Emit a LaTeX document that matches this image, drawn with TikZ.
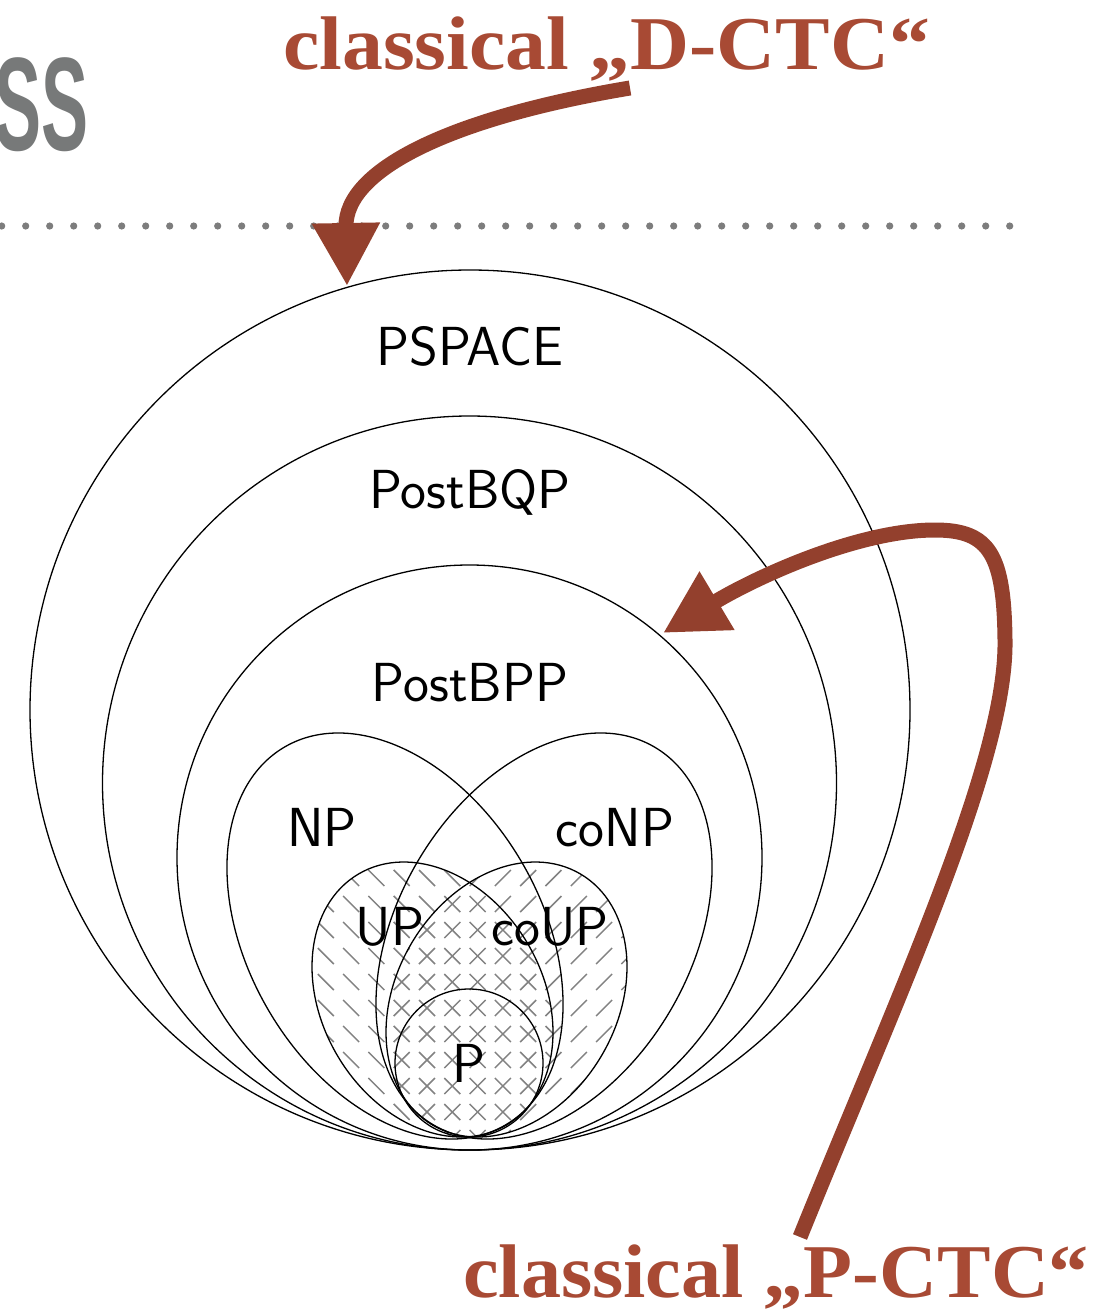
\documentclass[tikz,border=0pt]{standalone}
\usepackage{fontspec}
\usepackage{graphicx}
\usetikzlibrary{arrows.meta}
\newfontfamily\redfont{Liberation Serif}
\newfontfamily\titlefont{Liberation Sans}
\definecolor{arrowred}{RGB}{147,64,45}
\definecolor{textred}{RGB}{168,74,52}
\definecolor{hatchgray}{RGB}{130,130,130}
\definecolor{titlegray}{RGB}{119,121,121}
\definecolor{dotgray}{RGB}{125,125,125}
\begin{document}
\begin{tikzpicture}[x=1pt,y=-1pt,
  setline/.style={line width=1.3pt, black},
  lbl/.style={font=\sffamily\fontsize{55}{60}\selectfont, inner sep=0pt, anchor=base},
  ctc/.style={-{Triangle[length=63pt,width=64pt]}, line width=15pt, arrowred},
  ctctext/.style={font=\redfont\bfseries\fontsize{76}{80}\selectfont, text=textred, inner sep=0pt, anchor=base west},
  hatch/.style={hatchgray, line width=1.5pt}
]
\useasboundingbox (0,0) rectangle (1113,1311);

% title fragment
\node[font=\titlefont\bfseries\fontsize{133}{140}\selectfont, text=titlegray, inner sep=0pt, anchor=base east] (title) at (89,150) {\scalebox{0.53}[1]{SS}};

% dotted separator
\foreach \i in {0,...,42} \fill[dotgray] ({1.7+24*\i},226) circle (3.6);

% hatching of UP (\) and coUP (/)
\begin{scope}
  \clip[shift={(432.5,999.5)}, rotate=-59.5] (0,0) ellipse [x radius=145.7, y radius=110.4];
  \foreach \i in {-6,...,9} \foreach \j in {-4,...,9}
    \draw[hatch] ({427+25.3*\i-8},{930+26*\j-8}) -- ++(16,16);
\end{scope}
\begin{scope}
  \clip[shift={(506.5,999.5)}, rotate=59.5] (0,0) ellipse [x radius=145.7, y radius=110.4];
  \foreach \i in {-6,...,9} \foreach \j in {-4,...,9}
    \draw[hatch] ({427+25.3*\i-8},{930+26*\j+8}) -- ++(16,-16);
\end{scope}

% big circles
\draw[setline] (470,710) circle (440);
\draw[setline] (469.5,783) circle (367);
\draw[setline] (469.5,857.5) circle (292.5);
% NP, coNP
\draw[setline, shift={(395,936)}, rotate=-59.7] (0,0) ellipse [x radius=218.9, y radius=146.7];
\draw[setline, shift={(544,936)}, rotate=59.7] (0,0) ellipse [x radius=218.9, y radius=146.7];
% UP, coUP
\draw[setline, shift={(432.5,999.5)}, rotate=-59.5] (0,0) ellipse [x radius=145.7, y radius=110.4];
\draw[setline, shift={(506.5,999.5)}, rotate=59.5] (0,0) ellipse [x radius=145.7, y radius=110.4];
% P
\draw[setline] (469,1063) circle (74);

% labels
\node[lbl] (pspace) at (470,365) {PSPACE};
\node[lbl] (postbqp) at (470,508) {PostBQP};
\node[lbl] (postbpp) at (470,701) {PostBPP};
\node[lbl] (np) at (322,846) {NP};
\node[lbl] (conp) at (615,846) {coNP};
\node[lbl] (up) at (390,945) {UP};
\node[lbl] (coup) at (550,945) {coUP};
\node[lbl] (p) at (469,1082) {P};

% red texts
\node[ctctext] (dctc) at (283,70) {\scalebox{1.075}[1]{classical „D-CTC“}};
\node[ctctext] (pctc) at (463,1297) {\scalebox{1.055}[1]{classical „P-CTC“}};

% arrows
\coordinate (dstart) at (630,88);
\coordinate (dtip) at (347,286);
\draw[ctc] (dstart) .. controls (450,118) and (345,170) .. (dtip);

\coordinate (pstart) at (800,1237);
\coordinate (pturn) at (1005,640);
\coordinate (ptop) at (935,530);
\coordinate (ptip) at (663,633);
\draw[ctc] (pstart) .. controls (900,990) and (1007,760) .. (pturn)
  .. controls (1004,555) and (990,530) .. (ptop)
  .. controls (860,530) and (760,575) .. (ptip);
\end{tikzpicture}
\end{document}
